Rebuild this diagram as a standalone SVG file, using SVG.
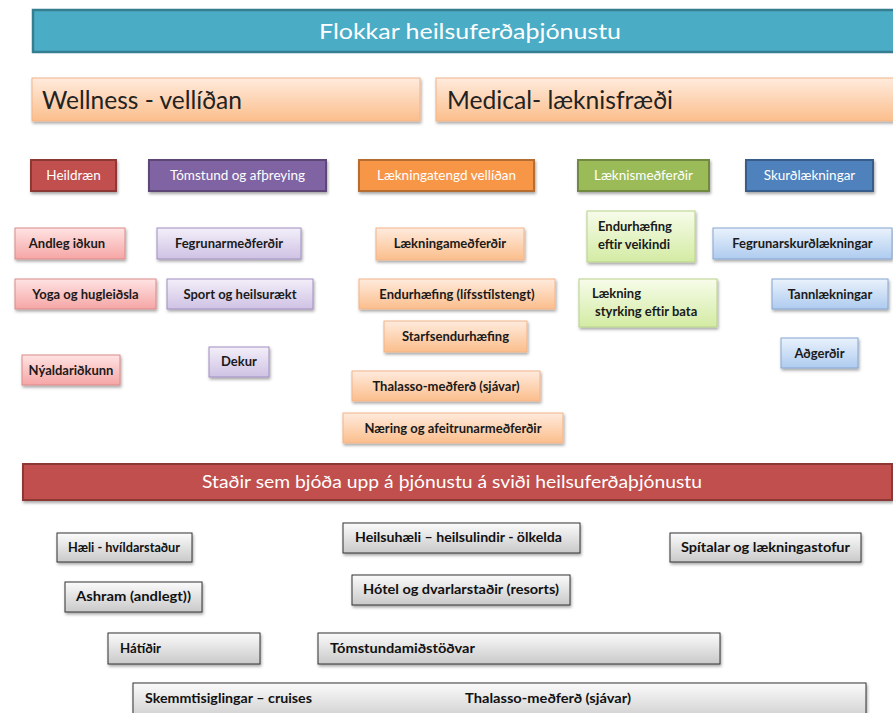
<svg xmlns="http://www.w3.org/2000/svg" width="893" height="713" viewBox="0 0 893 713">
<defs>
<filter id="sh" x="-10%" y="-20%" width="130%" height="160%"><feDropShadow dx="1" dy="2" stdDeviation="1.5" flood-color="#000" flood-opacity="0.35"/></filter>
<linearGradient id="gPeach" x1="0" y1="0" x2="0" y2="1"><stop offset="0" stop-color="#FFEBDD"/><stop offset="1" stop-color="#FBBE8C"/></linearGradient>
<linearGradient id="gPink" x1="0" y1="0" x2="0" y2="1"><stop offset="0" stop-color="#FFE3E3"/><stop offset="1" stop-color="#F5A6A5"/></linearGradient>
<linearGradient id="gLav" x1="0" y1="0" x2="0" y2="1"><stop offset="0" stop-color="#F3EFF9"/><stop offset="1" stop-color="#CFC2E4"/></linearGradient>
<linearGradient id="gGreen" x1="0" y1="0" x2="0" y2="1"><stop offset="0" stop-color="#F7FCEA"/><stop offset="1" stop-color="#D3EBA3"/></linearGradient>
<linearGradient id="gBlue" x1="0" y1="0" x2="0" y2="1"><stop offset="0" stop-color="#EAF2FC"/><stop offset="1" stop-color="#AECBEF"/></linearGradient>
<linearGradient id="gGray" x1="0" y1="0" x2="0" y2="1"><stop offset="0" stop-color="#FBFBFB"/><stop offset="1" stop-color="#C9C9C9"/></linearGradient>
</defs>
<style>
text{font-family:Lato,"Open Sans","Liberation Sans",sans-serif;}
.hd{fill:#fff;font-size:13.5px;text-anchor:middle;}
.it{fill:#1a1a1a;font-size:13px;font-weight:bold;text-anchor:middle;}
.itl{fill:#1a1a1a;font-size:13px;font-weight:bold;text-anchor:start;}
.peach{fill:url(#gPeach);stroke:#F2B48A;stroke-width:1;filter:url(#sh);}
.pink{fill:url(#gPink);stroke:#D98B89;stroke-width:1;filter:url(#sh);}
.lav{fill:url(#gLav);stroke:#A08FC2;stroke-width:1;filter:url(#sh);}
.green{fill:url(#gGreen);stroke:#B8D28A;stroke-width:1;filter:url(#sh);}
.blue{fill:url(#gBlue);stroke:#86A6D0;stroke-width:1;filter:url(#sh);}
.gray{fill:url(#gGray);stroke:#333;stroke-width:1;filter:url(#sh);}
.bt{fill:#111;font-size:13px;font-weight:bold;}
</style>
<rect width="893" height="713" fill="#fff"/>

<g id="title">
<rect x="33" y="10" width="880" height="42" fill="#4BACC6" stroke="#357D91" stroke-width="2.5"/>
<text x="470" y="39" fill="#fff" font-size="22" text-anchor="middle" textLength="302" lengthAdjust="spacingAndGlyphs">Flokkar heilsuferðaþjónustu</text>
</g>
<g id="wellness">
<rect x="32" y="78" width="388" height="43" class="peach"/>
<text x="42" y="109" fill="#222" font-size="25" textLength="200" lengthAdjust="spacingAndGlyphs">Wellness - vellíðan</text>
</g>
<g id="medical">
<rect x="436" y="78" width="470" height="43" class="peach"/>
<text x="447" y="109" fill="#222" font-size="25" textLength="226" lengthAdjust="spacingAndGlyphs">Medical- læknisfræði</text>
</g>

<g id="h-heildraen"><rect x="31" y="160" width="85" height="31" fill="#C0504D" stroke="#8C3836" stroke-width="2" filter="url(#sh)"/><text class="hd" x="73.5" y="180">Heildræn</text></g>
<g id="h-tomstund"><rect x="149" y="160" width="177" height="31" fill="#8064A2" stroke="#5C4776" stroke-width="2" filter="url(#sh)"/><text class="hd" x="237.5" y="180">Tómstund og afþreying</text></g>
<g id="h-laekningatengd"><rect x="359" y="160" width="175" height="31" fill="#F79646" stroke="#B66D31" stroke-width="2" filter="url(#sh)"/><text class="hd" x="446.5" y="180">Lækningatengd vellíðan</text></g>
<g id="h-laeknismedferdir"><rect x="578" y="160" width="131" height="31" fill="#9BBB59" stroke="#71893F" stroke-width="2" filter="url(#sh)"/><text class="hd" x="643.5" y="180">Læknismeðferðir</text></g>
<g id="h-skurdlaekningar"><rect x="746" y="160" width="127" height="31" fill="#4F81BD" stroke="#385D8A" stroke-width="2" filter="url(#sh)"/><text class="hd" x="809.5" y="180">Skurðlækningar</text></g>

<g id="andleg"><rect x="15" y="228" width="110" height="31" class="pink"/><text class="it" x="67" y="248">Andleg iðkun</text></g>
<g id="yoga"><rect x="15" y="279" width="141" height="30" class="pink"/><text class="it" x="85.5" y="299">Yoga og hugleiðsla</text></g>
<g id="nyaldar"><rect x="22" y="355" width="98" height="30" class="pink"/><text class="it" x="71" y="375">Nýaldariðkunn</text></g>

<g id="fegrun"><rect x="157" y="228" width="144" height="31" class="lav"/><text class="it" x="229" y="248">Fegrunarmeðferðir</text></g>
<g id="sport"><rect x="167" y="279" width="146" height="30" class="lav"/><text class="it" x="240" y="299">Sport og heilsurækt</text></g>
<g id="dekur"><rect x="209" y="347" width="60" height="30" class="lav"/><text class="it" x="239" y="366">Dekur</text></g>

<g id="laekningamed"><rect x="376" y="228" width="148" height="32" class="peach"/><text class="it" x="450" y="248">Lækningameðferðir</text></g>
<g id="endurlifs"><rect x="359" y="279" width="196" height="30" class="peach"/><text class="it" x="457" y="299">Endurhæfing (lífsstílstengt)</text></g>
<g id="starfs"><rect x="384" y="321" width="143" height="31" class="peach"/><text class="it" x="455.5" y="341">Starfsendurhæfing</text></g>
<g id="thalasso1"><rect x="352" y="371" width="188" height="30" class="peach"/><text class="it" x="446" y="391">Thalasso-meðferð (sjávar)</text></g>
<g id="naering"><rect x="343" y="413" width="220" height="30" class="peach"/><text class="it" x="453" y="433">Næring og afeitrunarmeðferðir</text></g>

<g id="endurveik"><rect x="587" y="211" width="108" height="51" class="green"/><text class="itl" x="598" y="231">Endurhæfing</text><text class="itl" x="598" y="249">eftir veikindi</text></g>
<g id="laekning"><rect x="579" y="279" width="138" height="48" class="green"/><text class="itl" x="592" y="298">Lækning</text><text class="itl" x="595" y="316">styrking eftir bata</text></g>

<g id="fegrunskurd"><rect x="713" y="228" width="179" height="31" class="blue"/><text class="it" x="802.5" y="248">Fegrunarskurðlækningar</text></g>
<g id="tann"><rect x="772" y="279" width="116" height="30" class="blue"/><text class="it" x="830" y="299">Tannlækningar</text></g>
<g id="adgerdir"><rect x="781" y="338" width="77" height="30" class="blue"/><text class="it" x="819.5" y="358">Aðgerðir</text></g>

<g id="stadir">
<rect x="23" y="464" width="869" height="36" fill="#C0504D" stroke="#8C3836" stroke-width="2" filter="url(#sh)"/>
<text x="452" y="488" fill="#fff" font-size="17" text-anchor="middle" textLength="500" lengthAdjust="spacingAndGlyphs">Staðir sem bjóða upp á þjónustu á sviði heilsuferðaþjónustu</text>
</g>

<g id="haeli"><rect x="57" y="533" width="135" height="29" class="gray"/><text class="bt" x="68" y="552" textLength="112" lengthAdjust="spacingAndGlyphs">Hæli - hvíldarstaður</text></g>
<g id="heilsuhaeli"><rect x="343" y="523" width="237" height="30" class="gray"/><text class="bt" x="355" y="542" textLength="207" lengthAdjust="spacingAndGlyphs">Heilsuhæli – heilsulindir - ölkelda</text></g>
<g id="spitalar"><rect x="670" y="533" width="191" height="29" class="gray"/><text class="bt" x="681" y="552" textLength="169" lengthAdjust="spacingAndGlyphs">Spítalar og lækningastofur</text></g>
<g id="ashram"><rect x="65" y="582" width="137" height="30" class="gray"/><text class="bt" x="76" y="601" textLength="115" lengthAdjust="spacingAndGlyphs">Ashram (andlegt))</text></g>
<g id="hotel"><rect x="352" y="575" width="218" height="30" class="gray"/><text class="bt" x="363" y="594" textLength="196" lengthAdjust="spacingAndGlyphs">Hótel og dvarlarstaðir (resorts)</text></g>
<g id="hatidir"><rect x="108" y="633" width="152" height="31" class="gray"/><text class="bt" x="120" y="653" textLength="41" lengthAdjust="spacingAndGlyphs">Hátíðir</text></g>
<g id="tomstundamid"><rect x="318" y="633" width="402" height="31" class="gray"/><text class="bt" x="330" y="653" textLength="145" lengthAdjust="spacingAndGlyphs">Tómstundamiðstöðvar</text></g>
<g id="skemmti"><rect x="133" y="683" width="733" height="40" class="gray"/><text class="bt" x="145" y="703" textLength="167" lengthAdjust="spacingAndGlyphs">Skemmtisiglingar – cruises</text><text class="bt" x="465" y="703" textLength="166" lengthAdjust="spacingAndGlyphs">Thalasso-meðferð (sjávar)</text></g>
<g id="connectors"></g>
</svg>
